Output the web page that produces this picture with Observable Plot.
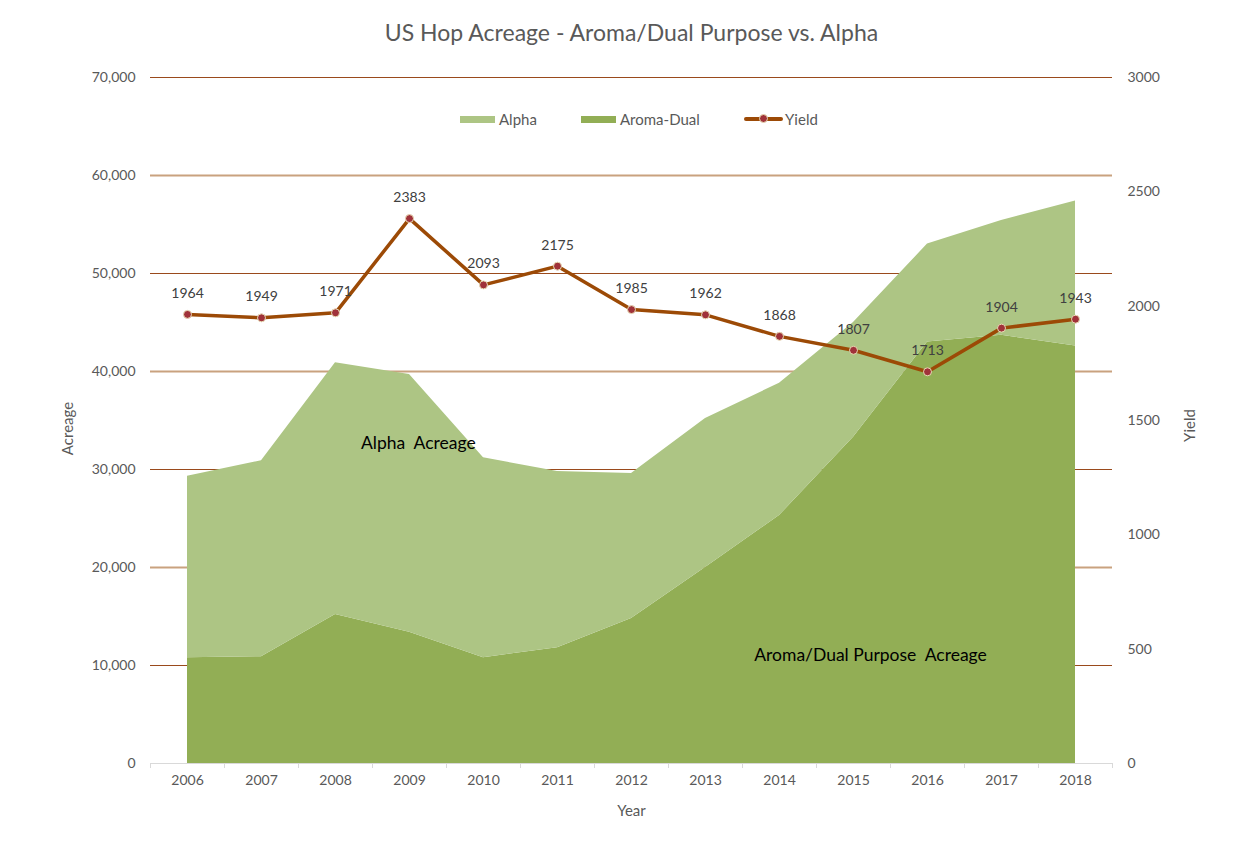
<!DOCTYPE html>
<html>
<head>
<meta charset="utf-8">
<script src="https://cdn.jsdelivr.net/npm/d3@7"></script>
<script src="https://cdn.jsdelivr.net/npm/@observablehq/plot@0.6"></script>
<style>
  html, body { margin: 0; padding: 0; background: #fff; }
  #wrap { position: relative; width: 1251px; height: 865px; font-family: Lato, "Open Sans", sans-serif; }
  .legend { position: absolute; top: 109px; left: 0; width: 1251px; height: 20px; font-size: 15px; color: #595959; }
  .item { position: absolute; top: 0; display: flex; align-items: center; height: 20px; }
  .sw { display: inline-block; width: 35px; height: 7px; margin-right: 4px; }
  .ln { position: relative; display: inline-block; width: 39px; height: 4px; background: #9c4a06; margin-right: 2px; border-radius: 2px; }
  .ln::after { content: ""; position: absolute; left: 15px; top: -3px; width: 9px; height: 9px; border-radius: 50%; background: #a0323a; box-sizing: border-box; border: 1px solid #e8dcb5; }
</style>
</head>
<body>
<div id="wrap">
  <div class="legend">
    <div class="item" style="left:460px"><span class="sw" style="background:#adc584"></span>Alpha</div>
    <div class="item" style="left:581px"><span class="sw" style="background:#92ae55"></span>Aroma-Dual</div>
    <div class="item" style="left:744px"><span class="ln"></span>Yield</div>
  </div>
</div>
<script>
const title = "US Hop Acreage - Aroma/Dual Purpose vs. Alpha";
const years = [2006, 2007, 2008, 2009, 2010, 2011, 2012, 2013, 2014, 2015, 2016, 2017, 2018];
const aromaDual = [10800, 10900, 15200, 13400, 10800, 11800, 14800, 20000, 25300, 33300, 43000, 43700, 42600];
const alpha = [18500, 20000, 25700, 26300, 20400, 18000, 14800, 15200, 13500, 11700, 10000, 11700, 14800];
const yieldVals = [1964, 1949, 1971, 2383, 2093, 2175, 1985, 1962, 1868, 1807, 1713, 1904, 1943];
const acreageTicks = [0, 10000, 20000, 30000, 40000, 50000, 60000, 70000];
const yieldTicks = [0, 500, 1000, 1500, 2000, 2500, 3000];
const annotations = [
  {label: "Alpha\u00a0 Acreage", year: 2009.12, acreage: 32700},
  {label: "Aroma/Dual Purpose\u00a0 Acreage", year: 2015.23, acreage: 11000}
];

const yMax = 70000, yieldMax = 3000;
const toAcre = v => v * yMax / yieldMax;

const areaData = [];
years.forEach((yr, i) => {
  areaData.push({year: yr, series: "Aroma-Dual", value: aromaDual[i]});
  areaData.push({year: yr, series: "Alpha", value: alpha[i]});
});
const yieldData = years.map((yr, i) => ({year: yr, yield: yieldVals[i], y: toAcre(yieldVals[i])}));
const boundaries = years.map(y => y - 0.5).concat([years[years.length - 1] + 0.5]);

const darkGrid = acreageTicks.filter(d => d > 0 && (d / 10000) % 2 === 1);
const tanGrid = acreageTicks.filter(d => d > 0 && (d / 10000) % 2 === 0);

const chart = Plot.plot({
  width: 1251,
  height: 865,
  marginTop: 77,
  marginBottom: 102,
  marginLeft: 150,
  marginRight: 139,
  style: {fontFamily: "Lato, 'Open Sans', sans-serif", fontSize: "14px", color: "#595959", background: "#fff"},
  x: {domain: [years[0] - 0.5, years[years.length - 1] + 0.5]},
  y: {domain: [0, yMax]},
  color: {domain: ["Alpha", "Aroma-Dual"], range: ["#adc584", "#92ae55"]},
  marks: [
    Plot.ruleY(darkGrid, {stroke: "#9a4a1c", strokeWidth: 1}),
    Plot.ruleY(tanGrid, {stroke: "#c9a27f", strokeWidth: 2}),
    Plot.areaY(areaData, {x: "year", y: "value", fill: "series", order: ["Aroma-Dual", "Alpha"]}),
    Plot.ruleY([0], {stroke: "#d9d9d9", strokeWidth: 1}),
    Plot.axisX(boundaries, {tickSize: 5, stroke: "#d9d9d9", tickFormat: () => "", label: null}),
    Plot.axisX(years, {tickSize: 0, tickPadding: 12, tickFormat: d => String(d), label: null, fill: "#595959", fontSize: 14}),
    Plot.axisY(acreageTicks, {anchor: "left", tickSize: 0, tickPadding: 15, tickFormat: d3.format(","), label: null, fill: "#595959", fontSize: 14}),
    Plot.axisY(yieldTicks.map(toAcre), {anchor: "right", tickSize: 0, tickPadding: 15, tickFormat: d => String(Math.round(d * yieldMax / yMax)), label: null, fill: "#595959", fontSize: 14}),
    Plot.line(yieldData, {x: "year", y: "y", stroke: "#9c4a06", strokeWidth: 3.5}),
    Plot.dot(yieldData, {x: "year", y: "y", r: 4, fill: "#a0323a", stroke: "#e8dcb5", strokeWidth: 1}),
    Plot.text(yieldData, {x: "year", y: "y", text: d => String(d.yield), dy: -21, fill: "#404040", fontSize: 14}),
    Plot.text(annotations, {x: "year", y: "acreage", text: "label", fill: "#000", fontSize: 17.5}),
    Plot.text([title], {frameAnchor: "top", lineAnchor: "middle", dy: -44, fill: "#595959", fontSize: 23}),
    Plot.text(["Acreage"], {frameAnchor: "left", textAnchor: "middle", lineAnchor: "middle", dx: -82, dy: 8, rotate: -90, fill: "#595959", fontSize: 15}),
    Plot.text(["Yield"], {frameAnchor: "right", textAnchor: "middle", lineAnchor: "middle", dx: 78, dy: 5, rotate: -90, fill: "#595959", fontSize: 15}),
    Plot.text(["Year"], {frameAnchor: "bottom", lineAnchor: "middle", dy: 48, fill: "#595959", fontSize: 15})
  ]
});
document.getElementById("wrap").prepend(chart);
</script>
</body>
</html>
